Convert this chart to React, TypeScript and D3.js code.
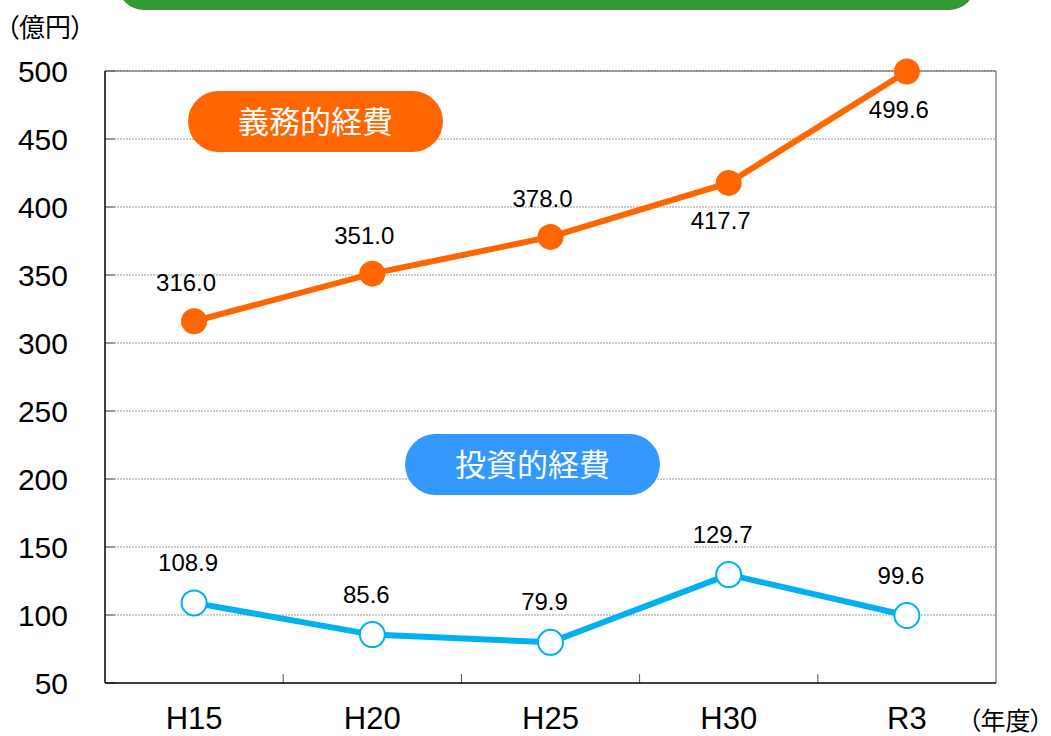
import React, { useRef, useEffect } from 'react';
import * as d3 from 'd3';

// データ
const categories = ['H15', 'H20', 'H25', 'H30', 'R3'];
const mandatory = [316.0, 351.0, 378.0, 417.7, 499.6]; // 義務的経費
const investment = [108.9, 85.6, 79.9, 129.7, 99.6]; // 投資的経費
const yTicks = [50, 100, 150, 200, 250, 300, 350, 400, 450, 500];
const mandatoryBelow = [false, false, false, true, true]; // ラベルを点の下に置くか

const W = 1051;
const H = 736;
const FONT = '"Liberation Sans", Arial, sans-serif';
const JP = '"Noto Sans CJK JP", sans-serif';

const App: React.FC = () => {
  const svgRef = useRef<SVGSVGElement | null>(null);

  useEffect(() => {
    if (!svgRef.current) return;
    const root = d3.select(svgRef.current);
    root.selectAll('*').remove();

    const margin = { top: 71, right: 55, bottom: 53, left: 105 };
    const width = W - margin.left - margin.right;
    const height = H - margin.top - margin.bottom;

    // 上部の緑の帯
    root.append('rect')
      .attr('x', 118).attr('y', -40)
      .attr('width', 857).attr('height', 50)
      .attr('rx', 26)
      .attr('fill', '#339933');

    // 単位ラベル(プロポーショナル幅の括弧)
    root.append('text')
      .attr('x', 6).attr('y', 37)
      .attr('font-family', JP).attr('font-size', 26)
      .style('font-feature-settings', '"palt"')
      .text('（億円）');

    const svg = root.append('g')
      .attr('transform', `translate(${margin.left},${margin.top})`);

    const x = d3.scaleBand<string>().domain(categories).range([0, width]);
    const y = d3.scaleLinear().domain([50, 500]).range([height, 0]);
    const cx = (c: string) => x(c)! + x.bandwidth() / 2;

    // グリッド線
    svg.append('g')
      .selectAll('line')
      .data(yTicks.slice(1))
      .enter().append('line')
      .attr('x1', 0).attr('x2', width)
      .attr('y1', d => y(d)).attr('y2', d => y(d))
      .attr('stroke', '#999').attr('stroke-width', 1)
      .attr('stroke-dasharray', '2,1');

    // 左の目盛り(内側)
    svg.append('g')
      .selectAll('line')
      .data(yTicks)
      .enter().append('line')
      .attr('x1', 0).attr('x2', 10)
      .attr('y1', d => y(d)).attr('y2', d => y(d))
      .attr('stroke', '#555');

    // 下の目盛り(カテゴリ間)
    svg.append('g')
      .selectAll('line')
      .data(categories.slice(1))
      .enter().append('line')
      .attr('x1', d => x(d)!).attr('x2', d => x(d)!)
      .attr('y1', height).attr('y2', height - 9)
      .attr('stroke', '#555');

    // 枠
    svg.append('line').attr('x1', 0).attr('x2', width).attr('y1', 0).attr('y2', 0).attr('stroke', '#555');
    svg.append('line').attr('x1', width).attr('x2', width).attr('y1', 0).attr('y2', height).attr('stroke', '#555');
    svg.append('line').attr('x1', 0).attr('x2', 0).attr('y1', 0).attr('y2', height).attr('stroke', '#000').attr('stroke-width', 1.5);
    svg.append('line').attr('x1', 0).attr('x2', width).attr('y1', height).attr('y2', height).attr('stroke', '#000').attr('stroke-width', 1.5);

    // Y軸ラベル
    svg.append('g')
      .selectAll('text')
      .data(yTicks)
      .enter().append('text')
      .attr('x', -37).attr('y', d => y(d))
      .attr('dy', '0.36em')
      .attr('text-anchor', 'end')
      .attr('font-family', FONT).attr('font-size', 30)
      .text(d => d);

    // X軸ラベル
    svg.append('g')
      .selectAll('text')
      .data(categories)
      .enter().append('text')
      .attr('x', d => cx(d)).attr('y', height + 46)
      .attr('text-anchor', 'middle')
      .attr('font-family', FONT).attr('font-size', 31)
      .text(d => d);

    root.append('text')
      .attr('x', 968).attr('y', 730)
      .attr('font-family', JP).attr('font-size', 25)
      .style('font-feature-settings', '"palt"')
      .text('（年度）');

    // 凡例ピル
    const pill = (px: number, py: number, color: string, label: string) => {
      const g = svg.append('g').attr('transform', `translate(${px},${py})`);
      g.append('rect')
        .attr('x', 0).attr('y', 0).attr('width', 255).attr('height', 61)
        .attr('rx', 30.5).attr('fill', color);
      g.append('text')
        .attr('x', 127.5).attr('y', 31).attr('dy', '0.36em')
        .attr('text-anchor', 'middle')
        .attr('font-family', JP).attr('font-size', 31)
        .attr('fill', '#fff')
        .text(label);
    };
    pill(83, 20, '#ff6600', '義務的経費');
    pill(300, 363, '#3399ff', '投資的経費');

    const line = d3.line<number>()
      .x((_, i) => cx(categories[i]))
      .y(d => y(d));

    // 義務的経費
    svg.append('path')
      .datum(mandatory)
      .attr('fill', 'none')
      .attr('stroke', '#ff6600')
      .attr('stroke-width', 6)
      .attr('d', line);

    svg.selectAll('.dot-m')
      .data(mandatory)
      .enter().append('circle')
      .attr('class', 'dot-m')
      .attr('cx', (_, i) => cx(categories[i]))
      .attr('cy', d => y(d))
      .attr('r', 13)
      .attr('fill', '#ff6600');

    svg.selectAll('.lab-m')
      .data(mandatory)
      .enter().append('text')
      .attr('class', 'lab-m')
      .attr('x', (_, i) => cx(categories[i]) - 8)
      .attr('y', (d, i) => y(d) + (mandatoryBelow[i] ? 46 : -30))
      .attr('text-anchor', 'middle')
      .attr('font-family', FONT).attr('font-size', 24)
      .text(d => d.toFixed(1));

    // 投資的経費
    svg.append('path')
      .datum(investment)
      .attr('fill', 'none')
      .attr('stroke', '#00b0f0')
      .attr('stroke-width', 6)
      .attr('d', line);

    svg.selectAll('.dot-i')
      .data(investment)
      .enter().append('circle')
      .attr('class', 'dot-i')
      .attr('cx', (_, i) => cx(categories[i]))
      .attr('cy', d => y(d))
      .attr('r', 12.5)
      .attr('fill', '#fff')
      .attr('stroke', '#00b0f0')
      .attr('stroke-width', 2);

    svg.selectAll('.lab-i')
      .data(investment)
      .enter().append('text')
      .attr('class', 'lab-i')
      .attr('x', (_, i) => cx(categories[i]) - 6)
      .attr('y', d => y(d) - 32)
      .attr('text-anchor', 'middle')
      .attr('font-family', FONT).attr('font-size', 24)
      .text(d => d.toFixed(1));
  }, []);

  return (
    <div style={{ position: 'absolute', left: 0, top: 0 }}>
      <svg ref={svgRef} width={W} height={H} style={{ display: 'block', background: '#fff' }}></svg>
    </div>
  );
};

export default App;
